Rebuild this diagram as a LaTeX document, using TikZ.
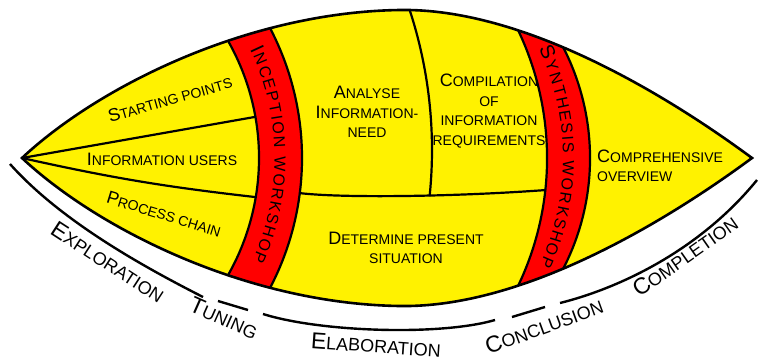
\documentclass[tikz,border=0pt]{standalone}
\usepackage{fontspec}
\setmainfont{Liberation Sans}
\usetikzlibrary{calc,decorations.text}
\tikzset{
	trait/.style={line width=2.2pt,line cap=round},
	phaseligne/.style={line width=2.4pt},
	petit/.style={font=\fontsize{14}{19.5}\selectfont,inner sep=1pt},
	phase/.style={font=\fontsize{18}{20}\selectfont,inner sep=1pt}
}
% initiales des petites capitales
\newcommand{\gA}[1]{{\fontsize{18}{19.5}\selectfont #1}}
\newcommand{\gB}[1]{{\fontsize{23}{20}\selectfont #1}}

\begin{document}
\begin{tikzpicture}[x=1pt,y=1pt]
	\def\rIa{237}
	\def\rIb{280}
	\def\rSa{297}
	\def\rSb{242}
\useasboundingbox (0,0) rectangle (762,360);

%Pointes et centres des arcs
\coordinate (L) at (22,202);
\coordinate (R) at (752,202);
\coordinate (S1) at (250,202);
\coordinate (S2) at (348,202);
\coordinate (S3) at (305,202);
\coordinate (D) at (-18,210);

\def\lentille{(L) .. controls (100,275) and (250,348) .. (400,350) .. controls (520,352) and (660,270) .. (R) .. controls (660,134) and (520,52) .. (400,54) .. controls (250,56) and (100,129) .. (L) -- cycle}

%Fond jaune
\fill[yellow] \lentille;

%Bande synthese
\begin{scope}
	\clip \lentille;
	\clip (S2) circle (\rSb);
	\fill[red,even odd rule] (0,0) rectangle (762,360) (S1) circle (\rSa);
\end{scope}

%Bande inception et traits interieurs
\begin{scope}
	\clip \lentille;
	\fill[red,even odd rule] (L) circle (\rIb) (L) circle (\rIa);

	\coordinate (P1) at ($(L)+(10:\rIa)$);
	\coordinate (P2) at ($(L)+(-9.5:\rIa)$);
	\coordinate (P3) at ($(L)+(-7.2:\rIb)$);
	\coordinate (P4) at ($(S1)+(-6.2:\rSa)$);

	\draw[trait] (L) -- (P1);
	\draw[trait] (L) to[bend right=3] (P2);
	\draw[trait] (P3) .. controls (340,162) and (450,163) .. (P4);
	\draw[trait,line cap=butt] (D) ++(20:450) arc[start angle=20,end angle=-5.9,radius=450];

	\draw[trait] (L) ++(50:\rIa) arc[start angle=50,end angle=-50,radius=\rIa];
	\draw[trait] (L) ++(50:\rIb) arc[start angle=50,end angle=-50,radius=\rIb];
	\draw[trait] (S1) ++(60:\rSa) arc[start angle=60,end angle=-60,radius=\rSa];
	\draw[trait] (S2) ++(60:\rSb) arc[start angle=60,end angle=-60,radius=\rSb];
\end{scope}

%Contour
\draw[line width=2.6pt] \lentille;

%Textes des ateliers
\path[decorate,decoration={text along path,text align=fit to path,
	text={|\fontsize{20}{20}\selectfont|I|\fontsize{16}{16}\selectfont|NCEPTION WORKSHOP}}]
	(L) ++(25.5:252.5) arc[start angle=25.5,end angle=-24,radius=252.5];
\path[decorate,decoration={text along path,text align=fit to path,
	text={|\fontsize{20}{20}\selectfont|S|\fontsize{16}{16}\selectfont|YNTHESIS WORKSHOP}}]
	(S3) ++(25:258) arc[start angle=25,end angle=-24.5,radius=258];

%Textes des zones
\node[petit,rotate=16] (start) at (170,261) {\gA{S}TARTING POINTS};
\node[petit] (users) at (162,201) {\gA{I}NFORMATION USERS};
\node[petit,rotate=-17] (chain) at (164,146) {\gA{P}ROCESS CHAIN};
\node[petit,align=center] (analyse) at (367,248) {\gA{A}NALYSE\\\gA{I}NFORMATION-\\NEED};
\node[petit,align=center] (compil) at (489,249) {\gA{C}OMPILATION\\OF\\INFORMATION\\REQUIREMENTS};
\node[petit,align=left,anchor=west] (overview) at (596,194) {\gA{C}OMPREHENSIVE\\OVERVIEW};
\node[petit,align=center] (present) at (406,112) {\gA{D}ETERMINE PRESENT\\SITUATION};

%Ligne des phases
\draw[phaseligne] (10,196) .. controls (60,140) and (140,95) .. (203,63);
\draw[phaseligne] (218,59) -- (248,50);
\draw[phaseligne] (263,46) .. controls (320,28) and (440,24) .. (495,40);
\draw[phaseligne] (512,43) -- (545,53);
\draw[phaseligne] (560,57) .. controls (620,72) and (700,110) .. (757,180);

\node[phase,rotate=-33] (explo) at (108,98) {\gB{E}XPLORATION};
\node[phase,rotate=-24] (tuning) at (224,42) {\gB{T}UNING};
\node[phase,rotate=-4] (elabo) at (376,15) {\gB{E}LABORATION};
\node[phase,rotate=20] (conclu) at (544,34) {\gB{C}ONCLUSION};
\node[phase,rotate=35] (comple) at (685,104) {\gB{C}OMPLETION};

\end{tikzpicture}
\end{document}
